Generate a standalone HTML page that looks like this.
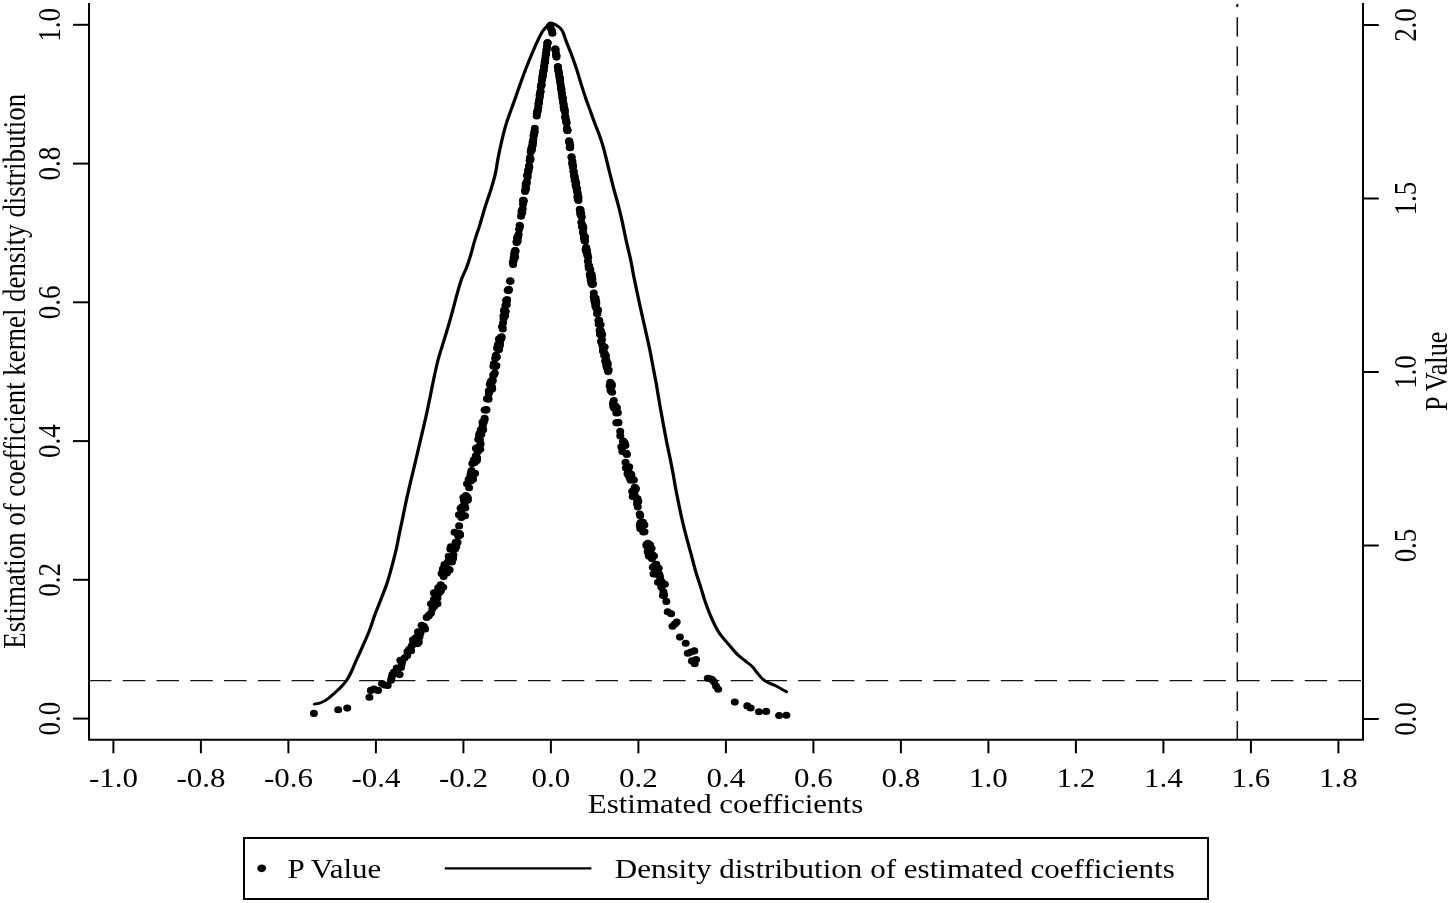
<!DOCTYPE html>
<html lang="en"><head><meta charset="utf-8"><title>Placebo test</title>
<style>
html,body{margin:0;padding:0;background:#fff;}
body{width:1450px;height:903px;overflow:hidden;}
svg{display:block;}
text{font-family:"Liberation Serif","Times New Roman",serif;font-size:27px;fill:#000;}
</style></head><body>
<svg width="1450" height="903" viewBox="0 0 1450 903">
<rect width="1450" height="903" fill="#fff"/>
<g stroke="#161616" fill="none">
<line x1="89.0" y1="680.6" x2="1363.0" y2="680.6" stroke-width="1.35" stroke-dasharray="22.5 11.27"/>
<line x1="1237.3" y1="17.2" x2="1237.3" y2="739.7" stroke-width="1.55" stroke-dasharray="19.4 9.92"/>
</g>
<ellipse cx="1237.3" cy="5.5" rx="1.3" ry="1.8" fill="#111"/>
<g stroke="#000" stroke-width="2" fill="none" stroke-linecap="butt">
<path d="M89.0 3.0V739.7H1363.0V3.0"/>
<line x1="113.4" y1="739.7" x2="113.4" y2="753.3"/>
<line x1="200.9" y1="739.7" x2="200.9" y2="753.3"/>
<line x1="288.4" y1="739.7" x2="288.4" y2="753.3"/>
<line x1="375.9" y1="739.7" x2="375.9" y2="753.3"/>
<line x1="463.4" y1="739.7" x2="463.4" y2="753.3"/>
<line x1="550.9" y1="739.7" x2="550.9" y2="753.3"/>
<line x1="638.4" y1="739.7" x2="638.4" y2="753.3"/>
<line x1="725.9" y1="739.7" x2="725.9" y2="753.3"/>
<line x1="813.4" y1="739.7" x2="813.4" y2="753.3"/>
<line x1="900.9" y1="739.7" x2="900.9" y2="753.3"/>
<line x1="988.4" y1="739.7" x2="988.4" y2="753.3"/>
<line x1="1075.9" y1="739.7" x2="1075.9" y2="753.3"/>
<line x1="1163.4" y1="739.7" x2="1163.4" y2="753.3"/>
<line x1="1250.9" y1="739.7" x2="1250.9" y2="753.3"/>
<line x1="1338.4" y1="739.7" x2="1338.4" y2="753.3"/>
<line x1="73" y1="718.6" x2="89.0" y2="718.6"/>
<line x1="73" y1="579.8" x2="89.0" y2="579.8"/>
<line x1="73" y1="441.1" x2="89.0" y2="441.1"/>
<line x1="73" y1="302.3" x2="89.0" y2="302.3"/>
<line x1="73" y1="163.6" x2="89.0" y2="163.6"/>
<line x1="73" y1="24.8" x2="89.0" y2="24.8"/>
<line x1="1363.0" y1="719.0" x2="1378.8" y2="719.0"/>
<line x1="1363.0" y1="545.5" x2="1378.8" y2="545.5"/>
<line x1="1363.0" y1="372.0" x2="1378.8" y2="372.0"/>
<line x1="1363.0" y1="198.5" x2="1378.8" y2="198.5"/>
<line x1="1363.0" y1="25.0" x2="1378.8" y2="25.0"/>
</g>
<path transform="scale(1.147 1)" d="M274.19 704.10 C275.11 703.87 277.77 703.55 279.69 702.70 C281.60 701.85 283.70 700.62 285.70 699.00 C287.71 697.38 289.71 695.08 291.72 693.00 C293.72 690.92 295.92 688.73 297.73 686.50 C299.55 684.27 301.10 682.25 302.62 679.60 C304.13 676.95 305.59 673.48 306.80 670.60 C308.01 667.72 308.34 666.22 309.85 662.30 C311.36 658.38 313.86 652.30 315.87 647.10 C317.87 641.90 320.08 636.42 321.88 631.10 C323.68 625.78 325.02 620.35 326.68 615.20 C328.33 610.05 330.02 605.57 331.82 600.20 C333.62 594.83 335.85 588.65 337.49 583.00 C339.13 577.35 340.37 571.85 341.67 566.30 C342.98 560.75 344.23 555.23 345.34 549.70 C346.44 544.17 347.30 538.63 348.30 533.10 C349.30 527.57 350.35 522.03 351.35 516.50 C352.35 510.97 353.31 505.20 354.32 499.90 C355.32 494.60 356.52 488.85 357.37 484.70 C358.21 480.55 358.44 479.45 359.37 475.00 C360.30 470.55 361.70 464.07 362.95 458.00 C364.20 451.93 365.50 445.30 366.87 438.60 C368.24 431.90 369.83 424.50 371.14 417.80 C372.45 411.10 373.51 405.08 374.72 398.40 C375.92 391.72 377.17 384.15 378.38 377.70 C379.58 371.25 380.94 364.32 381.95 359.70 C382.97 355.08 383.17 354.92 384.48 350.00 C385.79 345.08 388.11 336.73 389.80 330.20 C391.49 323.67 393.10 317.03 394.59 310.80 C396.09 304.57 397.47 298.10 398.78 292.80 C400.09 287.50 401.13 283.15 402.44 279.00 C403.75 274.85 405.32 271.83 406.63 267.90 C407.93 263.97 409.18 259.55 410.29 255.40 C411.39 251.25 412.25 246.92 413.25 243.00 C414.25 239.08 415.46 234.90 416.30 231.90 C417.15 228.90 417.12 229.45 418.31 225.00 C419.50 220.55 421.80 211.27 423.45 205.20 C425.11 199.13 426.84 193.90 428.25 188.60 C429.66 183.30 430.91 178.48 431.91 173.40 C432.91 168.32 433.36 163.42 434.26 158.10 C435.16 152.78 436.18 147.05 437.31 141.50 C438.45 135.95 439.74 129.90 441.06 124.80 C442.39 119.70 443.90 115.28 445.25 110.90 C446.60 106.52 447.73 103.15 449.17 98.50 C450.61 93.85 452.19 88.35 453.88 83.00 C455.57 77.65 457.48 71.70 459.29 66.40 C461.09 61.10 462.98 55.80 464.69 51.20 C466.41 46.60 468.16 42.15 469.57 38.80 C470.98 35.45 471.94 33.18 473.15 31.10 C474.35 29.02 475.70 27.65 476.81 26.30 C477.91 24.95 478.57 23.32 479.77 23.00 C480.98 22.68 482.64 23.58 484.05 24.40 C485.45 25.22 487.13 26.67 488.23 27.90 C489.33 29.13 489.76 29.53 490.67 31.80 C491.59 34.07 492.41 37.57 493.72 41.50 C495.03 45.43 497.02 50.78 498.52 55.40 C500.01 60.02 501.39 64.60 502.70 69.20 C504.01 73.80 505.03 78.12 506.36 83.00 C507.70 87.88 509.34 93.85 510.72 98.50 C512.10 103.15 513.34 106.75 514.65 110.90 C515.95 115.05 517.28 119.45 518.57 123.40 C519.86 127.35 521.17 130.65 522.41 134.60 C523.64 138.55 524.88 142.72 525.98 147.10 C527.09 151.48 528.03 156.30 529.03 160.90 C530.03 165.50 530.99 170.08 532.00 174.70 C533.00 179.32 533.93 183.75 535.05 188.60 C536.17 193.45 537.61 198.97 538.71 203.80 C539.81 208.63 540.95 214.10 541.67 217.60 C542.40 221.10 542.33 220.80 543.07 224.80 C543.81 228.80 545.00 235.80 546.12 241.60 C547.24 247.40 548.68 253.60 549.78 259.60 C550.89 265.60 551.74 271.83 552.75 277.60 C553.75 283.37 554.68 288.20 555.80 294.20 C556.92 300.20 558.25 307.37 559.46 313.60 C560.67 319.83 561.86 325.57 563.03 331.60 C564.21 337.63 565.48 343.97 566.52 349.80 C567.57 355.63 568.35 360.80 569.31 366.60 C570.27 372.40 571.27 378.13 572.28 384.60 C573.28 391.07 574.31 398.72 575.33 405.40 C576.34 412.08 577.38 418.48 578.38 424.70 C579.38 430.92 580.34 436.93 581.34 442.70 C582.35 448.47 583.45 453.95 584.39 459.30 C585.34 464.65 586.22 469.88 587.01 474.80 C587.79 479.72 588.35 484.15 589.10 488.80 C589.86 493.45 590.63 497.62 591.54 502.70 C592.46 507.78 593.49 513.77 594.59 519.30 C595.70 524.83 596.86 530.13 598.17 535.90 C599.48 541.67 601.03 547.90 602.44 553.90 C603.85 559.90 605.22 566.37 606.63 571.90 C608.04 577.43 609.62 582.45 610.90 587.10 C612.18 591.75 613.06 595.57 614.30 599.80 C615.53 604.03 616.84 608.32 618.31 612.50 C619.78 616.68 621.49 621.22 623.10 624.90 C624.72 628.58 625.97 631.37 627.99 634.60 C630.01 637.83 632.81 641.07 635.22 644.30 C637.63 647.53 640.05 651.23 642.46 654.00 C644.87 656.77 647.49 658.83 649.69 660.90 C651.90 662.97 653.91 664.32 655.71 666.40 C657.51 668.48 658.89 671.20 660.51 673.40 C662.12 675.60 663.78 678.03 665.39 679.60 C667.00 681.17 668.38 681.77 670.18 682.80 C671.98 683.83 674.38 684.78 676.20 685.80 C678.02 686.82 679.51 687.90 681.08 688.90 C682.65 689.90 684.86 691.32 685.61 691.80" fill="none" stroke="#000" stroke-width="2.85" stroke-linejoin="round" stroke-linecap="round"/>
<g fill="#000">
<ellipse cx="440.8" cy="590.9" rx="4.0" ry="3.55"/>
<ellipse cx="441.6" cy="573.4" rx="4.0" ry="3.55"/>
<ellipse cx="442.8" cy="569.4" rx="4.0" ry="3.55"/>
<ellipse cx="443.6" cy="567.7" rx="4.0" ry="3.55"/>
<ellipse cx="444.5" cy="564.5" rx="4.0" ry="3.55"/>
<ellipse cx="446.1" cy="569.6" rx="4.0" ry="3.55"/>
<ellipse cx="446.9" cy="573.0" rx="4.0" ry="3.55"/>
<ellipse cx="447.1" cy="568.2" rx="4.0" ry="3.55"/>
<ellipse cx="447.8" cy="562.1" rx="4.0" ry="3.55"/>
<ellipse cx="448.7" cy="556.3" rx="4.0" ry="3.55"/>
<ellipse cx="449.0" cy="557.2" rx="4.0" ry="3.55"/>
<ellipse cx="449.6" cy="569.9" rx="4.0" ry="3.55"/>
<ellipse cx="450.3" cy="549.0" rx="4.0" ry="3.55"/>
<ellipse cx="450.8" cy="546.8" rx="4.0" ry="3.55"/>
<ellipse cx="451.1" cy="556.2" rx="4.0" ry="3.55"/>
<ellipse cx="451.5" cy="548.8" rx="4.0" ry="3.55"/>
<ellipse cx="452.0" cy="562.0" rx="4.0" ry="3.55"/>
<ellipse cx="452.6" cy="557.6" rx="4.0" ry="3.55"/>
<ellipse cx="453.1" cy="558.6" rx="4.0" ry="3.55"/>
<ellipse cx="453.5" cy="554.8" rx="4.0" ry="3.55"/>
<ellipse cx="454.0" cy="547.3" rx="4.0" ry="3.55"/>
<ellipse cx="454.5" cy="532.3" rx="4.0" ry="3.55"/>
<ellipse cx="455.3" cy="548.8" rx="4.0" ry="3.55"/>
<ellipse cx="455.6" cy="542.3" rx="4.0" ry="3.55"/>
<ellipse cx="456.2" cy="546.5" rx="4.0" ry="3.55"/>
<ellipse cx="457.2" cy="533.2" rx="4.0" ry="3.55"/>
<ellipse cx="457.5" cy="542.4" rx="4.0" ry="3.55"/>
<ellipse cx="458.1" cy="535.8" rx="4.0" ry="3.55"/>
<ellipse cx="458.8" cy="536.1" rx="4.0" ry="3.55"/>
<ellipse cx="458.9" cy="514.8" rx="4.0" ry="3.55"/>
<ellipse cx="459.6" cy="533.5" rx="4.0" ry="3.55"/>
<ellipse cx="460.1" cy="534.9" rx="4.0" ry="3.55"/>
<ellipse cx="460.6" cy="508.3" rx="4.0" ry="3.55"/>
<ellipse cx="461.2" cy="513.3" rx="4.0" ry="3.55"/>
<ellipse cx="461.8" cy="509.0" rx="4.0" ry="3.55"/>
<ellipse cx="462.4" cy="506.6" rx="4.0" ry="3.55"/>
<ellipse cx="463.4" cy="497.6" rx="4.0" ry="3.55"/>
<ellipse cx="463.9" cy="500.3" rx="4.0" ry="3.55"/>
<ellipse cx="464.3" cy="500.3" rx="4.0" ry="3.55"/>
<ellipse cx="464.5" cy="505.1" rx="4.0" ry="3.55"/>
<ellipse cx="465.0" cy="515.7" rx="4.0" ry="3.55"/>
<ellipse cx="465.4" cy="507.9" rx="4.0" ry="3.55"/>
<ellipse cx="465.9" cy="495.5" rx="4.0" ry="3.55"/>
<ellipse cx="466.6" cy="498.7" rx="4.0" ry="3.55"/>
<ellipse cx="467.0" cy="483.8" rx="4.0" ry="3.55"/>
<ellipse cx="467.5" cy="497.3" rx="4.0" ry="3.55"/>
<ellipse cx="467.6" cy="500.2" rx="4.0" ry="3.55"/>
<ellipse cx="468.0" cy="499.0" rx="4.0" ry="3.55"/>
<ellipse cx="468.6" cy="479.6" rx="4.0" ry="3.55"/>
<ellipse cx="469.1" cy="487.7" rx="4.0" ry="3.55"/>
<ellipse cx="469.5" cy="478.5" rx="4.0" ry="3.55"/>
<ellipse cx="469.7" cy="481.0" rx="4.0" ry="3.55"/>
<ellipse cx="470.4" cy="475.1" rx="4.0" ry="3.55"/>
<ellipse cx="470.8" cy="480.9" rx="4.0" ry="3.55"/>
<ellipse cx="471.0" cy="472.7" rx="4.0" ry="3.55"/>
<ellipse cx="471.5" cy="470.5" rx="4.0" ry="3.55"/>
<ellipse cx="472.1" cy="477.2" rx="4.0" ry="3.55"/>
<ellipse cx="472.3" cy="463.6" rx="4.0" ry="3.55"/>
<ellipse cx="472.8" cy="479.5" rx="4.0" ry="3.55"/>
<ellipse cx="473.0" cy="479.1" rx="4.0" ry="3.55"/>
<ellipse cx="473.7" cy="460.9" rx="4.0" ry="3.55"/>
<ellipse cx="473.9" cy="459.9" rx="4.0" ry="3.55"/>
<ellipse cx="474.6" cy="460.7" rx="4.0" ry="3.55"/>
<ellipse cx="474.7" cy="462.4" rx="4.0" ry="3.55"/>
<ellipse cx="475.1" cy="473.4" rx="4.0" ry="3.55"/>
<ellipse cx="475.8" cy="455.7" rx="4.0" ry="3.55"/>
<ellipse cx="476.0" cy="448.4" rx="4.0" ry="3.55"/>
<ellipse cx="476.4" cy="448.2" rx="4.0" ry="3.55"/>
<ellipse cx="476.9" cy="460.6" rx="4.0" ry="3.55"/>
<ellipse cx="477.1" cy="457.8" rx="4.0" ry="3.55"/>
<ellipse cx="477.5" cy="449.6" rx="4.0" ry="3.55"/>
<ellipse cx="477.9" cy="451.5" rx="4.0" ry="3.55"/>
<ellipse cx="478.2" cy="439.3" rx="4.0" ry="3.55"/>
<ellipse cx="478.7" cy="446.9" rx="4.0" ry="3.55"/>
<ellipse cx="479.1" cy="435.3" rx="4.0" ry="3.55"/>
<ellipse cx="479.5" cy="433.6" rx="4.0" ry="3.55"/>
<ellipse cx="479.9" cy="439.9" rx="4.0" ry="3.55"/>
<ellipse cx="480.3" cy="449.2" rx="4.0" ry="3.55"/>
<ellipse cx="480.6" cy="443.9" rx="4.0" ry="3.55"/>
<ellipse cx="480.8" cy="429.8" rx="4.0" ry="3.55"/>
<ellipse cx="481.3" cy="434.6" rx="4.0" ry="3.55"/>
<ellipse cx="481.8" cy="430.3" rx="4.0" ry="3.55"/>
<ellipse cx="482.1" cy="429.9" rx="4.0" ry="3.55"/>
<ellipse cx="482.5" cy="422.4" rx="4.0" ry="3.55"/>
<ellipse cx="482.7" cy="425.9" rx="4.0" ry="3.55"/>
<ellipse cx="483.2" cy="429.7" rx="4.0" ry="3.55"/>
<ellipse cx="483.7" cy="422.4" rx="4.0" ry="3.55"/>
<ellipse cx="484.5" cy="420.0" rx="4.0" ry="3.55"/>
<ellipse cx="486.9" cy="398.8" rx="4.0" ry="3.55"/>
<ellipse cx="488.2" cy="397.7" rx="4.0" ry="3.55"/>
<ellipse cx="488.8" cy="390.7" rx="4.0" ry="3.55"/>
<ellipse cx="488.9" cy="393.2" rx="4.0" ry="3.55"/>
<ellipse cx="489.8" cy="384.2" rx="4.0" ry="3.55"/>
<ellipse cx="490.0" cy="383.7" rx="4.0" ry="3.55"/>
<ellipse cx="490.4" cy="389.9" rx="4.0" ry="3.55"/>
<ellipse cx="490.9" cy="381.2" rx="4.0" ry="3.55"/>
<ellipse cx="491.0" cy="387.8" rx="4.0" ry="3.55"/>
<ellipse cx="491.5" cy="387.1" rx="4.0" ry="3.55"/>
<ellipse cx="491.7" cy="386.2" rx="4.0" ry="3.55"/>
<ellipse cx="492.2" cy="388.9" rx="4.0" ry="3.55"/>
<ellipse cx="492.5" cy="379.9" rx="4.0" ry="3.55"/>
<ellipse cx="492.7" cy="380.9" rx="4.0" ry="3.55"/>
<ellipse cx="493.2" cy="375.0" rx="4.0" ry="3.55"/>
<ellipse cx="493.4" cy="366.3" rx="4.0" ry="3.55"/>
<ellipse cx="493.9" cy="363.7" rx="4.0" ry="3.55"/>
<ellipse cx="494.1" cy="374.7" rx="4.0" ry="3.55"/>
<ellipse cx="494.4" cy="364.5" rx="4.0" ry="3.55"/>
<ellipse cx="494.8" cy="373.1" rx="4.0" ry="3.55"/>
<ellipse cx="495.2" cy="358.4" rx="4.0" ry="3.55"/>
<ellipse cx="495.6" cy="366.5" rx="4.0" ry="3.55"/>
<ellipse cx="495.8" cy="355.3" rx="4.0" ry="3.55"/>
<ellipse cx="496.2" cy="356.3" rx="4.0" ry="3.55"/>
<ellipse cx="496.4" cy="365.5" rx="4.0" ry="3.55"/>
<ellipse cx="496.9" cy="356.9" rx="4.0" ry="3.55"/>
<ellipse cx="497.1" cy="348.2" rx="4.0" ry="3.55"/>
<ellipse cx="497.6" cy="347.7" rx="4.0" ry="3.55"/>
<ellipse cx="497.7" cy="346.0" rx="4.0" ry="3.55"/>
<ellipse cx="498.1" cy="344.2" rx="4.0" ry="3.55"/>
<ellipse cx="498.5" cy="349.6" rx="4.0" ry="3.55"/>
<ellipse cx="498.9" cy="339.0" rx="4.0" ry="3.55"/>
<ellipse cx="499.1" cy="349.5" rx="4.0" ry="3.55"/>
<ellipse cx="499.5" cy="345.7" rx="4.0" ry="3.55"/>
<ellipse cx="499.7" cy="345.7" rx="4.0" ry="3.55"/>
<ellipse cx="500.0" cy="343.4" rx="4.0" ry="3.55"/>
<ellipse cx="500.4" cy="339.6" rx="4.0" ry="3.55"/>
<ellipse cx="500.9" cy="337.4" rx="4.0" ry="3.55"/>
<ellipse cx="501.1" cy="337.6" rx="4.0" ry="3.55"/>
<ellipse cx="501.4" cy="338.4" rx="4.0" ry="3.55"/>
<ellipse cx="501.7" cy="336.8" rx="4.0" ry="3.55"/>
<ellipse cx="502.2" cy="326.6" rx="4.0" ry="3.55"/>
<ellipse cx="502.3" cy="326.7" rx="4.0" ry="3.55"/>
<ellipse cx="502.8" cy="329.0" rx="4.0" ry="3.55"/>
<ellipse cx="503.1" cy="322.8" rx="4.0" ry="3.55"/>
<ellipse cx="503.4" cy="316.0" rx="4.0" ry="3.55"/>
<ellipse cx="503.6" cy="318.8" rx="4.0" ry="3.55"/>
<ellipse cx="504.0" cy="310.2" rx="4.0" ry="3.55"/>
<ellipse cx="504.3" cy="311.0" rx="4.0" ry="3.55"/>
<ellipse cx="504.7" cy="311.3" rx="4.0" ry="3.55"/>
<ellipse cx="504.9" cy="313.9" rx="4.0" ry="3.55"/>
<ellipse cx="505.1" cy="315.7" rx="4.0" ry="3.55"/>
<ellipse cx="505.4" cy="305.6" rx="4.0" ry="3.55"/>
<ellipse cx="505.8" cy="311.3" rx="4.0" ry="3.55"/>
<ellipse cx="506.1" cy="300.8" rx="4.0" ry="3.55"/>
<ellipse cx="506.6" cy="300.0" rx="4.0" ry="3.55"/>
<ellipse cx="506.8" cy="304.8" rx="4.0" ry="3.55"/>
<ellipse cx="507.1" cy="300.1" rx="4.0" ry="3.55"/>
<ellipse cx="507.7" cy="290.2" rx="4.0" ry="3.55"/>
<ellipse cx="512.8" cy="262.3" rx="4.0" ry="3.55"/>
<ellipse cx="513.3" cy="261.5" rx="4.0" ry="3.55"/>
<ellipse cx="513.6" cy="257.9" rx="4.0" ry="3.55"/>
<ellipse cx="513.7" cy="260.4" rx="4.0" ry="3.55"/>
<ellipse cx="514.1" cy="254.5" rx="4.0" ry="3.55"/>
<ellipse cx="514.5" cy="252.4" rx="4.0" ry="3.55"/>
<ellipse cx="515.1" cy="250.5" rx="4.0" ry="3.55"/>
<ellipse cx="515.2" cy="256.9" rx="4.0" ry="3.55"/>
<ellipse cx="515.5" cy="251.5" rx="4.0" ry="3.55"/>
<ellipse cx="516.5" cy="241.9" rx="4.0" ry="3.55"/>
<ellipse cx="517.2" cy="237.4" rx="4.0" ry="3.55"/>
<ellipse cx="517.4" cy="238.3" rx="4.0" ry="3.55"/>
<ellipse cx="517.7" cy="241.3" rx="4.0" ry="3.55"/>
<ellipse cx="518.0" cy="237.3" rx="4.0" ry="3.55"/>
<ellipse cx="518.1" cy="236.5" rx="4.0" ry="3.55"/>
<ellipse cx="518.6" cy="234.2" rx="4.0" ry="3.55"/>
<ellipse cx="519.1" cy="229.2" rx="4.0" ry="3.55"/>
<ellipse cx="520.0" cy="226.6" rx="4.0" ry="3.55"/>
<ellipse cx="521.5" cy="211.6" rx="4.0" ry="3.55"/>
<ellipse cx="521.8" cy="213.6" rx="4.0" ry="3.55"/>
<ellipse cx="522.0" cy="210.4" rx="4.0" ry="3.55"/>
<ellipse cx="522.3" cy="212.0" rx="4.0" ry="3.55"/>
<ellipse cx="522.7" cy="208.7" rx="4.0" ry="3.55"/>
<ellipse cx="523.0" cy="200.2" rx="4.0" ry="3.55"/>
<ellipse cx="523.0" cy="204.1" rx="4.0" ry="3.55"/>
<ellipse cx="523.7" cy="201.5" rx="4.0" ry="3.55"/>
<ellipse cx="525.3" cy="189.9" rx="4.0" ry="3.55"/>
<ellipse cx="525.6" cy="186.4" rx="4.0" ry="3.55"/>
<ellipse cx="525.7" cy="184.1" rx="4.0" ry="3.55"/>
<ellipse cx="526.0" cy="189.1" rx="4.0" ry="3.55"/>
<ellipse cx="526.2" cy="184.2" rx="4.0" ry="3.55"/>
<ellipse cx="526.6" cy="183.2" rx="4.0" ry="3.55"/>
<ellipse cx="526.8" cy="181.6" rx="4.0" ry="3.55"/>
<ellipse cx="527.1" cy="175.7" rx="4.0" ry="3.55"/>
<ellipse cx="527.3" cy="175.1" rx="4.0" ry="3.55"/>
<ellipse cx="527.8" cy="176.8" rx="4.0" ry="3.55"/>
<ellipse cx="528.1" cy="170.3" rx="4.0" ry="3.55"/>
<ellipse cx="528.4" cy="171.7" rx="4.0" ry="3.55"/>
<ellipse cx="528.5" cy="170.0" rx="4.0" ry="3.55"/>
<ellipse cx="529.0" cy="165.8" rx="4.0" ry="3.55"/>
<ellipse cx="529.1" cy="166.2" rx="4.0" ry="3.55"/>
<ellipse cx="529.3" cy="167.3" rx="4.0" ry="3.55"/>
<ellipse cx="529.6" cy="160.2" rx="4.0" ry="3.55"/>
<ellipse cx="529.9" cy="157.5" rx="4.0" ry="3.55"/>
<ellipse cx="530.2" cy="160.3" rx="4.0" ry="3.55"/>
<ellipse cx="530.5" cy="158.6" rx="4.0" ry="3.55"/>
<ellipse cx="530.7" cy="151.9" rx="4.0" ry="3.55"/>
<ellipse cx="531.2" cy="150.3" rx="4.0" ry="3.55"/>
<ellipse cx="531.4" cy="148.3" rx="4.0" ry="3.55"/>
<ellipse cx="531.7" cy="148.3" rx="4.0" ry="3.55"/>
<ellipse cx="531.9" cy="150.1" rx="4.0" ry="3.55"/>
<ellipse cx="532.2" cy="145.7" rx="4.0" ry="3.55"/>
<ellipse cx="532.5" cy="142.7" rx="4.0" ry="3.55"/>
<ellipse cx="532.7" cy="145.3" rx="4.0" ry="3.55"/>
<ellipse cx="533.1" cy="141.9" rx="4.0" ry="3.55"/>
<ellipse cx="533.3" cy="139.6" rx="4.0" ry="3.55"/>
<ellipse cx="533.5" cy="135.8" rx="4.0" ry="3.55"/>
<ellipse cx="533.9" cy="135.6" rx="4.0" ry="3.55"/>
<ellipse cx="534.1" cy="134.1" rx="4.0" ry="3.55"/>
<ellipse cx="534.4" cy="131.9" rx="4.0" ry="3.55"/>
<ellipse cx="534.6" cy="132.0" rx="4.0" ry="3.55"/>
<ellipse cx="536.8" cy="113.4" rx="4.0" ry="3.55"/>
<ellipse cx="537.1" cy="113.5" rx="4.0" ry="3.55"/>
<ellipse cx="537.3" cy="111.8" rx="4.0" ry="3.55"/>
<ellipse cx="537.6" cy="110.9" rx="4.0" ry="3.55"/>
<ellipse cx="537.8" cy="109.8" rx="4.0" ry="3.55"/>
<ellipse cx="538.3" cy="107.2" rx="4.0" ry="3.55"/>
<ellipse cx="538.4" cy="104.0" rx="4.0" ry="3.55"/>
<ellipse cx="538.8" cy="103.3" rx="4.0" ry="3.55"/>
<ellipse cx="538.9" cy="102.4" rx="4.0" ry="3.55"/>
<ellipse cx="539.2" cy="99.6" rx="4.0" ry="3.55"/>
<ellipse cx="539.6" cy="95.4" rx="4.0" ry="3.55"/>
<ellipse cx="539.9" cy="96.8" rx="4.0" ry="3.55"/>
<ellipse cx="539.9" cy="93.8" rx="4.0" ry="3.55"/>
<ellipse cx="540.4" cy="91.5" rx="4.0" ry="3.55"/>
<ellipse cx="540.6" cy="91.8" rx="4.0" ry="3.55"/>
<ellipse cx="540.8" cy="87.2" rx="4.0" ry="3.55"/>
<ellipse cx="541.2" cy="85.0" rx="4.0" ry="3.55"/>
<ellipse cx="541.5" cy="84.9" rx="4.0" ry="3.55"/>
<ellipse cx="541.6" cy="84.8" rx="4.0" ry="3.55"/>
<ellipse cx="541.9" cy="80.7" rx="4.0" ry="3.55"/>
<ellipse cx="542.3" cy="78.1" rx="4.0" ry="3.55"/>
<ellipse cx="542.5" cy="76.7" rx="4.0" ry="3.55"/>
<ellipse cx="542.7" cy="75.8" rx="4.0" ry="3.55"/>
<ellipse cx="542.9" cy="74.1" rx="4.0" ry="3.55"/>
<ellipse cx="543.2" cy="71.7" rx="4.0" ry="3.55"/>
<ellipse cx="543.5" cy="70.7" rx="4.0" ry="3.55"/>
<ellipse cx="543.7" cy="69.9" rx="4.0" ry="3.55"/>
<ellipse cx="544.1" cy="66.3" rx="4.0" ry="3.55"/>
<ellipse cx="544.2" cy="66.7" rx="4.0" ry="3.55"/>
<ellipse cx="544.6" cy="63.1" rx="4.0" ry="3.55"/>
<ellipse cx="544.8" cy="62.3" rx="4.0" ry="3.55"/>
<ellipse cx="545.1" cy="60.5" rx="4.0" ry="3.55"/>
<ellipse cx="545.3" cy="58.4" rx="4.0" ry="3.55"/>
<ellipse cx="545.7" cy="55.2" rx="4.0" ry="3.55"/>
<ellipse cx="545.9" cy="53.8" rx="4.0" ry="3.55"/>
<ellipse cx="546.1" cy="53.4" rx="4.0" ry="3.55"/>
<ellipse cx="546.5" cy="49.8" rx="4.0" ry="3.55"/>
<ellipse cx="546.6" cy="49.9" rx="4.0" ry="3.55"/>
<ellipse cx="546.9" cy="47.0" rx="4.0" ry="3.55"/>
<ellipse cx="547.1" cy="45.8" rx="4.0" ry="3.55"/>
<ellipse cx="547.5" cy="43.0" rx="4.0" ry="3.55"/>
<ellipse cx="547.6" cy="42.7" rx="4.0" ry="3.55"/>
<ellipse cx="555.3" cy="49.1" rx="4.0" ry="3.55"/>
<ellipse cx="555.6" cy="50.6" rx="4.0" ry="3.55"/>
<ellipse cx="556.0" cy="53.9" rx="4.0" ry="3.55"/>
<ellipse cx="556.3" cy="55.6" rx="4.0" ry="3.55"/>
<ellipse cx="556.4" cy="55.4" rx="4.0" ry="3.55"/>
<ellipse cx="557.8" cy="66.8" rx="4.0" ry="3.55"/>
<ellipse cx="558.3" cy="70.2" rx="4.0" ry="3.55"/>
<ellipse cx="558.4" cy="70.8" rx="4.0" ry="3.55"/>
<ellipse cx="558.9" cy="73.6" rx="4.0" ry="3.55"/>
<ellipse cx="559.1" cy="73.5" rx="4.0" ry="3.55"/>
<ellipse cx="559.3" cy="76.2" rx="4.0" ry="3.55"/>
<ellipse cx="559.7" cy="78.1" rx="4.0" ry="3.55"/>
<ellipse cx="559.8" cy="78.5" rx="4.0" ry="3.55"/>
<ellipse cx="560.0" cy="81.6" rx="4.0" ry="3.55"/>
<ellipse cx="560.2" cy="81.5" rx="4.0" ry="3.55"/>
<ellipse cx="560.7" cy="85.1" rx="4.0" ry="3.55"/>
<ellipse cx="561.0" cy="88.9" rx="4.0" ry="3.55"/>
<ellipse cx="561.1" cy="88.1" rx="4.0" ry="3.55"/>
<ellipse cx="561.5" cy="89.4" rx="4.0" ry="3.55"/>
<ellipse cx="561.7" cy="92.7" rx="4.0" ry="3.55"/>
<ellipse cx="561.9" cy="93.7" rx="4.0" ry="3.55"/>
<ellipse cx="562.3" cy="97.5" rx="4.0" ry="3.55"/>
<ellipse cx="562.6" cy="97.0" rx="4.0" ry="3.55"/>
<ellipse cx="562.8" cy="98.7" rx="4.0" ry="3.55"/>
<ellipse cx="563.1" cy="101.8" rx="4.0" ry="3.55"/>
<ellipse cx="563.3" cy="103.0" rx="4.0" ry="3.55"/>
<ellipse cx="563.6" cy="106.8" rx="4.0" ry="3.55"/>
<ellipse cx="563.8" cy="104.8" rx="4.0" ry="3.55"/>
<ellipse cx="564.0" cy="109.6" rx="4.0" ry="3.55"/>
<ellipse cx="564.3" cy="109.0" rx="4.0" ry="3.55"/>
<ellipse cx="564.6" cy="109.4" rx="4.0" ry="3.55"/>
<ellipse cx="565.0" cy="111.9" rx="4.0" ry="3.55"/>
<ellipse cx="565.1" cy="116.9" rx="4.0" ry="3.55"/>
<ellipse cx="565.4" cy="116.5" rx="4.0" ry="3.55"/>
<ellipse cx="565.8" cy="119.5" rx="4.0" ry="3.55"/>
<ellipse cx="565.9" cy="120.7" rx="4.0" ry="3.55"/>
<ellipse cx="566.3" cy="121.8" rx="4.0" ry="3.55"/>
<ellipse cx="566.6" cy="122.9" rx="4.0" ry="3.55"/>
<ellipse cx="566.9" cy="128.3" rx="4.0" ry="3.55"/>
<ellipse cx="567.2" cy="129.5" rx="4.0" ry="3.55"/>
<ellipse cx="567.4" cy="130.4" rx="4.0" ry="3.55"/>
<ellipse cx="569.0" cy="142.0" rx="4.0" ry="3.55"/>
<ellipse cx="569.4" cy="141.7" rx="4.0" ry="3.55"/>
<ellipse cx="569.7" cy="147.2" rx="4.0" ry="3.55"/>
<ellipse cx="569.8" cy="143.8" rx="4.0" ry="3.55"/>
<ellipse cx="570.2" cy="145.5" rx="4.0" ry="3.55"/>
<ellipse cx="571.6" cy="157.4" rx="4.0" ry="3.55"/>
<ellipse cx="572.2" cy="163.6" rx="4.0" ry="3.55"/>
<ellipse cx="572.4" cy="161.2" rx="4.0" ry="3.55"/>
<ellipse cx="572.5" cy="164.1" rx="4.0" ry="3.55"/>
<ellipse cx="572.8" cy="167.0" rx="4.0" ry="3.55"/>
<ellipse cx="573.1" cy="166.1" rx="4.0" ry="3.55"/>
<ellipse cx="573.5" cy="171.5" rx="4.0" ry="3.55"/>
<ellipse cx="573.6" cy="171.3" rx="4.0" ry="3.55"/>
<ellipse cx="574.1" cy="175.3" rx="4.0" ry="3.55"/>
<ellipse cx="574.2" cy="176.4" rx="4.0" ry="3.55"/>
<ellipse cx="574.6" cy="176.3" rx="4.0" ry="3.55"/>
<ellipse cx="574.7" cy="180.4" rx="4.0" ry="3.55"/>
<ellipse cx="575.1" cy="179.2" rx="4.0" ry="3.55"/>
<ellipse cx="575.5" cy="185.1" rx="4.0" ry="3.55"/>
<ellipse cx="575.6" cy="181.2" rx="4.0" ry="3.55"/>
<ellipse cx="576.0" cy="186.7" rx="4.0" ry="3.55"/>
<ellipse cx="576.2" cy="183.0" rx="4.0" ry="3.55"/>
<ellipse cx="576.5" cy="187.8" rx="4.0" ry="3.55"/>
<ellipse cx="576.8" cy="190.9" rx="4.0" ry="3.55"/>
<ellipse cx="577.2" cy="188.7" rx="4.0" ry="3.55"/>
<ellipse cx="577.4" cy="196.4" rx="4.0" ry="3.55"/>
<ellipse cx="577.7" cy="198.8" rx="4.0" ry="3.55"/>
<ellipse cx="577.8" cy="193.4" rx="4.0" ry="3.55"/>
<ellipse cx="578.2" cy="196.5" rx="4.0" ry="3.55"/>
<ellipse cx="578.5" cy="197.7" rx="4.0" ry="3.55"/>
<ellipse cx="579.9" cy="209.9" rx="4.0" ry="3.55"/>
<ellipse cx="580.2" cy="213.4" rx="4.0" ry="3.55"/>
<ellipse cx="580.6" cy="209.8" rx="4.0" ry="3.55"/>
<ellipse cx="580.7" cy="214.9" rx="4.0" ry="3.55"/>
<ellipse cx="581.2" cy="213.4" rx="4.0" ry="3.55"/>
<ellipse cx="581.3" cy="222.2" rx="4.0" ry="3.55"/>
<ellipse cx="581.8" cy="217.0" rx="4.0" ry="3.55"/>
<ellipse cx="582.0" cy="227.1" rx="4.0" ry="3.55"/>
<ellipse cx="582.4" cy="226.2" rx="4.0" ry="3.55"/>
<ellipse cx="582.7" cy="225.6" rx="4.0" ry="3.55"/>
<ellipse cx="583.0" cy="232.0" rx="4.0" ry="3.55"/>
<ellipse cx="583.2" cy="233.1" rx="4.0" ry="3.55"/>
<ellipse cx="583.4" cy="227.9" rx="4.0" ry="3.55"/>
<ellipse cx="583.8" cy="237.2" rx="4.0" ry="3.55"/>
<ellipse cx="584.0" cy="235.7" rx="4.0" ry="3.55"/>
<ellipse cx="584.3" cy="238.2" rx="4.0" ry="3.55"/>
<ellipse cx="584.5" cy="240.8" rx="4.0" ry="3.55"/>
<ellipse cx="585.0" cy="236.7" rx="4.0" ry="3.55"/>
<ellipse cx="585.1" cy="240.9" rx="4.0" ry="3.55"/>
<ellipse cx="585.6" cy="249.5" rx="4.0" ry="3.55"/>
<ellipse cx="585.9" cy="250.6" rx="4.0" ry="3.55"/>
<ellipse cx="586.1" cy="247.2" rx="4.0" ry="3.55"/>
<ellipse cx="586.4" cy="251.7" rx="4.0" ry="3.55"/>
<ellipse cx="586.7" cy="250.1" rx="4.0" ry="3.55"/>
<ellipse cx="587.0" cy="251.1" rx="4.0" ry="3.55"/>
<ellipse cx="587.3" cy="255.3" rx="4.0" ry="3.55"/>
<ellipse cx="587.5" cy="254.4" rx="4.0" ry="3.55"/>
<ellipse cx="587.9" cy="261.3" rx="4.0" ry="3.55"/>
<ellipse cx="588.2" cy="257.3" rx="4.0" ry="3.55"/>
<ellipse cx="588.5" cy="265.5" rx="4.0" ry="3.55"/>
<ellipse cx="588.8" cy="268.2" rx="4.0" ry="3.55"/>
<ellipse cx="589.0" cy="265.6" rx="4.0" ry="3.55"/>
<ellipse cx="589.3" cy="267.2" rx="4.0" ry="3.55"/>
<ellipse cx="589.7" cy="274.6" rx="4.0" ry="3.55"/>
<ellipse cx="590.0" cy="276.1" rx="4.0" ry="3.55"/>
<ellipse cx="590.3" cy="269.6" rx="4.0" ry="3.55"/>
<ellipse cx="590.6" cy="279.8" rx="4.0" ry="3.55"/>
<ellipse cx="590.9" cy="277.6" rx="4.0" ry="3.55"/>
<ellipse cx="591.3" cy="283.1" rx="4.0" ry="3.55"/>
<ellipse cx="591.6" cy="274.3" rx="4.0" ry="3.55"/>
<ellipse cx="591.9" cy="278.0" rx="4.0" ry="3.55"/>
<ellipse cx="592.0" cy="276.9" rx="4.0" ry="3.55"/>
<ellipse cx="592.4" cy="279.4" rx="4.0" ry="3.55"/>
<ellipse cx="593.1" cy="283.7" rx="4.0" ry="3.55"/>
<ellipse cx="593.7" cy="297.0" rx="4.0" ry="3.55"/>
<ellipse cx="594.1" cy="297.5" rx="4.0" ry="3.55"/>
<ellipse cx="594.3" cy="300.9" rx="4.0" ry="3.55"/>
<ellipse cx="594.8" cy="301.9" rx="4.0" ry="3.55"/>
<ellipse cx="595.2" cy="303.4" rx="4.0" ry="3.55"/>
<ellipse cx="595.4" cy="306.3" rx="4.0" ry="3.55"/>
<ellipse cx="595.7" cy="298.4" rx="4.0" ry="3.55"/>
<ellipse cx="596.2" cy="301.5" rx="4.0" ry="3.55"/>
<ellipse cx="596.3" cy="303.8" rx="4.0" ry="3.55"/>
<ellipse cx="596.6" cy="308.9" rx="4.0" ry="3.55"/>
<ellipse cx="597.1" cy="313.8" rx="4.0" ry="3.55"/>
<ellipse cx="597.5" cy="313.3" rx="4.0" ry="3.55"/>
<ellipse cx="597.7" cy="310.2" rx="4.0" ry="3.55"/>
<ellipse cx="597.9" cy="309.8" rx="4.0" ry="3.55"/>
<ellipse cx="598.4" cy="320.4" rx="4.0" ry="3.55"/>
<ellipse cx="598.7" cy="324.3" rx="4.0" ry="3.55"/>
<ellipse cx="599.1" cy="322.0" rx="4.0" ry="3.55"/>
<ellipse cx="599.2" cy="320.2" rx="4.0" ry="3.55"/>
<ellipse cx="599.6" cy="330.4" rx="4.0" ry="3.55"/>
<ellipse cx="600.0" cy="334.5" rx="4.0" ry="3.55"/>
<ellipse cx="600.3" cy="333.4" rx="4.0" ry="3.55"/>
<ellipse cx="600.6" cy="324.7" rx="4.0" ry="3.55"/>
<ellipse cx="600.9" cy="330.8" rx="4.0" ry="3.55"/>
<ellipse cx="601.1" cy="341.7" rx="4.0" ry="3.55"/>
<ellipse cx="601.4" cy="340.9" rx="4.0" ry="3.55"/>
<ellipse cx="601.9" cy="339.4" rx="4.0" ry="3.55"/>
<ellipse cx="602.2" cy="334.4" rx="4.0" ry="3.55"/>
<ellipse cx="602.4" cy="345.3" rx="4.0" ry="3.55"/>
<ellipse cx="602.9" cy="351.1" rx="4.0" ry="3.55"/>
<ellipse cx="603.0" cy="346.7" rx="4.0" ry="3.55"/>
<ellipse cx="603.4" cy="348.7" rx="4.0" ry="3.55"/>
<ellipse cx="603.7" cy="347.2" rx="4.0" ry="3.55"/>
<ellipse cx="604.2" cy="355.4" rx="4.0" ry="3.55"/>
<ellipse cx="604.5" cy="353.0" rx="4.0" ry="3.55"/>
<ellipse cx="604.7" cy="347.0" rx="4.0" ry="3.55"/>
<ellipse cx="605.1" cy="361.1" rx="4.0" ry="3.55"/>
<ellipse cx="605.3" cy="355.0" rx="4.0" ry="3.55"/>
<ellipse cx="605.9" cy="355.7" rx="4.0" ry="3.55"/>
<ellipse cx="606.1" cy="364.9" rx="4.0" ry="3.55"/>
<ellipse cx="606.3" cy="360.0" rx="4.0" ry="3.55"/>
<ellipse cx="606.8" cy="367.4" rx="4.0" ry="3.55"/>
<ellipse cx="607.2" cy="367.8" rx="4.0" ry="3.55"/>
<ellipse cx="607.6" cy="365.2" rx="4.0" ry="3.55"/>
<ellipse cx="607.7" cy="363.2" rx="4.0" ry="3.55"/>
<ellipse cx="608.0" cy="370.7" rx="4.0" ry="3.55"/>
<ellipse cx="608.7" cy="370.1" rx="4.0" ry="3.55"/>
<ellipse cx="609.6" cy="385.9" rx="4.0" ry="3.55"/>
<ellipse cx="610.6" cy="390.6" rx="4.0" ry="3.55"/>
<ellipse cx="610.8" cy="389.3" rx="4.0" ry="3.55"/>
<ellipse cx="611.7" cy="386.2" rx="4.0" ry="3.55"/>
<ellipse cx="611.8" cy="384.4" rx="4.0" ry="3.55"/>
<ellipse cx="612.9" cy="403.6" rx="4.0" ry="3.55"/>
<ellipse cx="613.3" cy="406.7" rx="4.0" ry="3.55"/>
<ellipse cx="614.5" cy="408.5" rx="4.0" ry="3.55"/>
<ellipse cx="614.8" cy="406.7" rx="4.0" ry="3.55"/>
<ellipse cx="615.2" cy="407.2" rx="4.0" ry="3.55"/>
<ellipse cx="615.4" cy="405.8" rx="4.0" ry="3.55"/>
<ellipse cx="616.3" cy="422.7" rx="4.0" ry="3.55"/>
<ellipse cx="617.0" cy="407.7" rx="4.0" ry="3.55"/>
<ellipse cx="617.9" cy="412.8" rx="4.0" ry="3.55"/>
<ellipse cx="620.3" cy="435.9" rx="4.0" ry="3.55"/>
<ellipse cx="621.3" cy="446.7" rx="4.0" ry="3.55"/>
<ellipse cx="622.1" cy="448.1" rx="4.0" ry="3.55"/>
<ellipse cx="622.4" cy="451.6" rx="4.0" ry="3.55"/>
<ellipse cx="623.0" cy="441.5" rx="4.0" ry="3.55"/>
<ellipse cx="623.4" cy="441.0" rx="4.0" ry="3.55"/>
<ellipse cx="623.5" cy="444.9" rx="4.0" ry="3.55"/>
<ellipse cx="624.0" cy="442.2" rx="4.0" ry="3.55"/>
<ellipse cx="624.6" cy="443.0" rx="4.0" ry="3.55"/>
<ellipse cx="624.7" cy="444.1" rx="4.0" ry="3.55"/>
<ellipse cx="625.4" cy="445.5" rx="4.0" ry="3.55"/>
<ellipse cx="625.5" cy="462.4" rx="4.0" ry="3.55"/>
<ellipse cx="625.9" cy="468.1" rx="4.0" ry="3.55"/>
<ellipse cx="626.5" cy="453.4" rx="4.0" ry="3.55"/>
<ellipse cx="626.9" cy="454.5" rx="4.0" ry="3.55"/>
<ellipse cx="627.3" cy="468.4" rx="4.0" ry="3.55"/>
<ellipse cx="627.5" cy="473.8" rx="4.0" ry="3.55"/>
<ellipse cx="628.1" cy="474.1" rx="4.0" ry="3.55"/>
<ellipse cx="628.4" cy="470.0" rx="4.0" ry="3.55"/>
<ellipse cx="628.7" cy="475.2" rx="4.0" ry="3.55"/>
<ellipse cx="629.2" cy="466.7" rx="4.0" ry="3.55"/>
<ellipse cx="629.6" cy="477.8" rx="4.0" ry="3.55"/>
<ellipse cx="630.2" cy="476.2" rx="4.0" ry="3.55"/>
<ellipse cx="630.6" cy="475.0" rx="4.0" ry="3.55"/>
<ellipse cx="630.7" cy="480.3" rx="4.0" ry="3.55"/>
<ellipse cx="631.3" cy="474.2" rx="4.0" ry="3.55"/>
<ellipse cx="631.7" cy="477.4" rx="4.0" ry="3.55"/>
<ellipse cx="632.2" cy="491.2" rx="4.0" ry="3.55"/>
<ellipse cx="632.7" cy="496.6" rx="4.0" ry="3.55"/>
<ellipse cx="633.1" cy="496.3" rx="4.0" ry="3.55"/>
<ellipse cx="633.2" cy="496.0" rx="4.0" ry="3.55"/>
<ellipse cx="633.9" cy="480.1" rx="4.0" ry="3.55"/>
<ellipse cx="634.1" cy="492.4" rx="4.0" ry="3.55"/>
<ellipse cx="634.7" cy="487.4" rx="4.0" ry="3.55"/>
<ellipse cx="635.0" cy="496.0" rx="4.0" ry="3.55"/>
<ellipse cx="635.5" cy="489.7" rx="4.0" ry="3.55"/>
<ellipse cx="635.9" cy="488.6" rx="4.0" ry="3.55"/>
<ellipse cx="637.0" cy="503.7" rx="4.0" ry="3.55"/>
<ellipse cx="637.2" cy="501.0" rx="4.0" ry="3.55"/>
<ellipse cx="637.6" cy="498.9" rx="4.0" ry="3.55"/>
<ellipse cx="638.3" cy="501.6" rx="4.0" ry="3.55"/>
<ellipse cx="639.8" cy="525.2" rx="4.0" ry="3.55"/>
<ellipse cx="640.2" cy="528.6" rx="4.0" ry="3.55"/>
<ellipse cx="640.4" cy="522.9" rx="4.0" ry="3.55"/>
<ellipse cx="641.8" cy="523.0" rx="4.0" ry="3.55"/>
<ellipse cx="643.0" cy="522.4" rx="4.0" ry="3.55"/>
<ellipse cx="643.3" cy="531.9" rx="4.0" ry="3.55"/>
<ellipse cx="644.4" cy="524.9" rx="4.0" ry="3.55"/>
<ellipse cx="646.4" cy="545.5" rx="4.0" ry="3.55"/>
<ellipse cx="646.6" cy="544.4" rx="4.0" ry="3.55"/>
<ellipse cx="647.6" cy="551.7" rx="4.0" ry="3.55"/>
<ellipse cx="648.2" cy="549.0" rx="4.0" ry="3.55"/>
<ellipse cx="648.8" cy="555.5" rx="4.0" ry="3.55"/>
<ellipse cx="649.2" cy="556.2" rx="4.0" ry="3.55"/>
<ellipse cx="650.0" cy="544.7" rx="4.0" ry="3.55"/>
<ellipse cx="650.7" cy="555.8" rx="4.0" ry="3.55"/>
<ellipse cx="651.6" cy="548.2" rx="4.0" ry="3.55"/>
<ellipse cx="652.0" cy="558.8" rx="4.0" ry="3.55"/>
<ellipse cx="652.3" cy="554.5" rx="4.0" ry="3.55"/>
<ellipse cx="652.8" cy="567.3" rx="4.0" ry="3.55"/>
<ellipse cx="653.5" cy="573.9" rx="4.0" ry="3.55"/>
<ellipse cx="654.0" cy="556.1" rx="4.0" ry="3.55"/>
<ellipse cx="654.7" cy="565.6" rx="4.0" ry="3.55"/>
<ellipse cx="655.3" cy="568.2" rx="4.0" ry="3.55"/>
<ellipse cx="655.6" cy="565.6" rx="4.0" ry="3.55"/>
<ellipse cx="656.3" cy="564.2" rx="4.0" ry="3.55"/>
<ellipse cx="657.1" cy="574.6" rx="4.0" ry="3.55"/>
<ellipse cx="657.5" cy="567.7" rx="4.0" ry="3.55"/>
<ellipse cx="658.0" cy="582.3" rx="4.0" ry="3.55"/>
<ellipse cx="658.7" cy="568.2" rx="4.0" ry="3.55"/>
<ellipse cx="659.3" cy="574.4" rx="4.0" ry="3.55"/>
<ellipse cx="660.0" cy="576.8" rx="4.0" ry="3.55"/>
<ellipse cx="660.5" cy="583.8" rx="4.0" ry="3.55"/>
<ellipse cx="660.9" cy="580.6" rx="4.0" ry="3.55"/>
<ellipse cx="661.4" cy="587.2" rx="4.0" ry="3.55"/>
<ellipse cx="662.4" cy="582.7" rx="4.0" ry="3.55"/>
<ellipse cx="662.9" cy="595.5" rx="4.0" ry="3.55"/>
<ellipse cx="663.4" cy="591.9" rx="4.0" ry="3.55"/>
<ellipse cx="664.1" cy="595.0" rx="4.0" ry="3.55"/>
<ellipse cx="664.8" cy="584.2" rx="4.0" ry="3.55"/>
<ellipse cx="547.5" cy="42.8" rx="4.0" ry="3.55"/>
<ellipse cx="536.7" cy="116.0" rx="4.0" ry="3.55"/>
<ellipse cx="534.8" cy="128.4" rx="4.0" ry="3.55"/>
<ellipse cx="525.0" cy="191.4" rx="4.0" ry="3.55"/>
<ellipse cx="523.6" cy="200.3" rx="4.0" ry="3.55"/>
<ellipse cx="521.0" cy="216.3" rx="4.0" ry="3.55"/>
<ellipse cx="519.6" cy="225.2" rx="4.0" ry="3.55"/>
<ellipse cx="516.7" cy="242.6" rx="4.0" ry="3.55"/>
<ellipse cx="515.4" cy="250.6" rx="4.0" ry="3.55"/>
<ellipse cx="513.1" cy="264.5" rx="4.0" ry="3.55"/>
<ellipse cx="510.3" cy="281.0" rx="4.0" ry="3.55"/>
<ellipse cx="510.3" cy="281.1" rx="4.0" ry="3.55"/>
<ellipse cx="508.8" cy="289.4" rx="4.0" ry="3.55"/>
<ellipse cx="508.6" cy="290.6" rx="4.0" ry="3.55"/>
<ellipse cx="507.0" cy="299.7" rx="4.0" ry="3.55"/>
<ellipse cx="488.5" cy="399.2" rx="4.0" ry="3.55"/>
<ellipse cx="486.3" cy="410.1" rx="4.0" ry="3.55"/>
<ellipse cx="486.4" cy="409.6" rx="4.0" ry="3.55"/>
<ellipse cx="484.6" cy="418.4" rx="4.0" ry="3.55"/>
<ellipse cx="461.4" cy="517.6" rx="4.0" ry="3.55"/>
<ellipse cx="459.1" cy="525.9" rx="4.0" ry="3.55"/>
<ellipse cx="443.6" cy="576.6" rx="4.0" ry="3.55"/>
<ellipse cx="440.7" cy="584.9" rx="4.0" ry="3.55"/>
<ellipse cx="428.5" cy="616.1" rx="4.0" ry="3.55"/>
<ellipse cx="423.8" cy="626.4" rx="4.0" ry="3.55"/>
<ellipse cx="555.4" cy="49.0" rx="4.0" ry="3.55"/>
<ellipse cx="556.5" cy="57.1" rx="4.0" ry="3.55"/>
<ellipse cx="558.0" cy="66.9" rx="4.0" ry="3.55"/>
<ellipse cx="567.5" cy="130.6" rx="4.0" ry="3.55"/>
<ellipse cx="569.1" cy="140.8" rx="4.0" ry="3.55"/>
<ellipse cx="570.2" cy="147.8" rx="4.0" ry="3.55"/>
<ellipse cx="571.5" cy="156.7" rx="4.0" ry="3.55"/>
<ellipse cx="578.4" cy="200.4" rx="4.0" ry="3.55"/>
<ellipse cx="579.8" cy="209.3" rx="4.0" ry="3.55"/>
<ellipse cx="592.3" cy="284.6" rx="4.0" ry="3.55"/>
<ellipse cx="593.8" cy="293.0" rx="4.0" ry="3.55"/>
<ellipse cx="608.1" cy="371.6" rx="4.0" ry="3.55"/>
<ellipse cx="610.2" cy="382.4" rx="4.0" ry="3.55"/>
<ellipse cx="612.1" cy="392.3" rx="4.0" ry="3.55"/>
<ellipse cx="613.8" cy="400.6" rx="4.0" ry="3.55"/>
<ellipse cx="616.3" cy="413.0" rx="4.0" ry="3.55"/>
<ellipse cx="618.3" cy="422.6" rx="4.0" ry="3.55"/>
<ellipse cx="618.3" cy="422.6" rx="4.0" ry="3.55"/>
<ellipse cx="620.2" cy="431.4" rx="4.0" ry="3.55"/>
<ellipse cx="637.8" cy="506.9" rx="4.0" ry="3.55"/>
<ellipse cx="640.2" cy="515.8" rx="4.0" ry="3.55"/>
<ellipse cx="639.7" cy="514.1" rx="4.0" ry="3.55"/>
<ellipse cx="641.9" cy="522.2" rx="4.0" ry="3.55"/>
<ellipse cx="644.5" cy="531.8" rx="4.0" ry="3.55"/>
<ellipse cx="647.9" cy="543.4" rx="4.0" ry="3.55"/>
<ellipse cx="550.3" cy="25.5" rx="4.0" ry="3.55"/>
<ellipse cx="550.9" cy="28.5" rx="4.0" ry="3.55"/>
<ellipse cx="552.0" cy="31.0" rx="4.0" ry="3.55"/>
<ellipse cx="552.4" cy="33.2" rx="4.0" ry="3.55"/>
<ellipse cx="510.3" cy="281.1" rx="4.0" ry="3.55"/>
<ellipse cx="508.7" cy="290.1" rx="4.0" ry="3.55"/>
<ellipse cx="484.6" cy="410.0" rx="4.0" ry="3.55"/>
<ellipse cx="617.0" cy="422.7" rx="4.0" ry="3.55"/>
<ellipse cx="313.9" cy="713.4" rx="4.0" ry="3.55"/>
<ellipse cx="338.2" cy="709.7" rx="4.0" ry="3.55"/>
<ellipse cx="347.2" cy="708.1" rx="4.0" ry="3.55"/>
<ellipse cx="369.4" cy="697.2" rx="4.0" ry="3.55"/>
<ellipse cx="370.8" cy="690.4" rx="4.0" ry="3.55"/>
<ellipse cx="374.0" cy="689.0" rx="4.0" ry="3.55"/>
<ellipse cx="378.0" cy="690.4" rx="4.0" ry="3.55"/>
<ellipse cx="382.0" cy="683.6" rx="4.0" ry="3.55"/>
<ellipse cx="384.5" cy="685.0" rx="4.0" ry="3.55"/>
<ellipse cx="387.7" cy="685.4" rx="4.0" ry="3.55"/>
<ellipse cx="391.0" cy="680.3" rx="4.0" ry="3.55"/>
<ellipse cx="391.7" cy="677.4" rx="4.0" ry="3.55"/>
<ellipse cx="392.4" cy="674.6" rx="4.0" ry="3.55"/>
<ellipse cx="393.8" cy="672.4" rx="4.0" ry="3.55"/>
<ellipse cx="396.7" cy="668.1" rx="4.0" ry="3.55"/>
<ellipse cx="399.6" cy="674.6" rx="4.0" ry="3.55"/>
<ellipse cx="401.0" cy="667.4" rx="4.0" ry="3.55"/>
<ellipse cx="401.8" cy="663.8" rx="4.0" ry="3.55"/>
<ellipse cx="400.3" cy="660.2" rx="4.0" ry="3.55"/>
<ellipse cx="402.1" cy="660.9" rx="4.0" ry="3.55"/>
<ellipse cx="404.5" cy="658.0" rx="4.0" ry="3.55"/>
<ellipse cx="407.2" cy="655.5" rx="4.0" ry="3.55"/>
<ellipse cx="407.5" cy="651.5" rx="4.0" ry="3.55"/>
<ellipse cx="411.1" cy="650.8" rx="4.0" ry="3.55"/>
<ellipse cx="411.8" cy="645.8" rx="4.0" ry="3.55"/>
<ellipse cx="414.7" cy="643.6" rx="4.0" ry="3.55"/>
<ellipse cx="417.6" cy="643.6" rx="4.0" ry="3.55"/>
<ellipse cx="417.6" cy="640.7" rx="4.0" ry="3.55"/>
<ellipse cx="409.4" cy="649.1" rx="4.0" ry="3.55"/>
<ellipse cx="413.0" cy="643.3" rx="4.0" ry="3.55"/>
<ellipse cx="418.8" cy="641.9" rx="4.0" ry="3.55"/>
<ellipse cx="413.0" cy="639.7" rx="4.0" ry="3.55"/>
<ellipse cx="419.5" cy="636.8" rx="4.0" ry="3.55"/>
<ellipse cx="418.0" cy="631.8" rx="4.0" ry="3.55"/>
<ellipse cx="425.2" cy="628.9" rx="4.0" ry="3.55"/>
<ellipse cx="421.6" cy="625.3" rx="4.0" ry="3.55"/>
<ellipse cx="423.0" cy="627.5" rx="4.0" ry="3.55"/>
<ellipse cx="416.0" cy="637.5" rx="4.0" ry="3.55"/>
<ellipse cx="420.5" cy="633.0" rx="4.0" ry="3.55"/>
<ellipse cx="426.7" cy="617.4" rx="4.0" ry="3.55"/>
<ellipse cx="431.0" cy="613.1" rx="4.0" ry="3.55"/>
<ellipse cx="432.4" cy="608.8" rx="4.0" ry="3.55"/>
<ellipse cx="431.0" cy="603.7" rx="4.0" ry="3.55"/>
<ellipse cx="437.5" cy="603.7" rx="4.0" ry="3.55"/>
<ellipse cx="433.9" cy="599.4" rx="4.0" ry="3.55"/>
<ellipse cx="437.5" cy="598.0" rx="4.0" ry="3.55"/>
<ellipse cx="433.9" cy="592.9" rx="4.0" ry="3.55"/>
<ellipse cx="438.9" cy="592.9" rx="4.0" ry="3.55"/>
<ellipse cx="438.2" cy="587.9" rx="4.0" ry="3.55"/>
<ellipse cx="443.2" cy="587.2" rx="4.0" ry="3.55"/>
<ellipse cx="429.0" cy="615.2" rx="4.0" ry="3.55"/>
<ellipse cx="434.5" cy="606.0" rx="4.0" ry="3.55"/>
<ellipse cx="435.5" cy="601.5" rx="4.0" ry="3.55"/>
<ellipse cx="436.5" cy="595.5" rx="4.0" ry="3.55"/>
<ellipse cx="440.5" cy="590.0" rx="4.0" ry="3.55"/>
<ellipse cx="666.3" cy="601.4" rx="4.0" ry="3.55"/>
<ellipse cx="667.7" cy="611.8" rx="4.0" ry="3.55"/>
<ellipse cx="671.1" cy="613.8" rx="4.0" ry="3.55"/>
<ellipse cx="672.5" cy="626.3" rx="4.0" ry="3.55"/>
<ellipse cx="674.8" cy="624.0" rx="4.0" ry="3.55"/>
<ellipse cx="676.7" cy="622.1" rx="4.0" ry="3.55"/>
<ellipse cx="679.9" cy="637.1" rx="4.0" ry="3.55"/>
<ellipse cx="685.7" cy="643.2" rx="4.0" ry="3.55"/>
<ellipse cx="687.8" cy="653.3" rx="4.0" ry="3.55"/>
<ellipse cx="694.3" cy="650.9" rx="4.0" ry="3.55"/>
<ellipse cx="691.0" cy="652.0" rx="4.0" ry="3.55"/>
<ellipse cx="691.9" cy="660.9" rx="4.0" ry="3.55"/>
<ellipse cx="696.1" cy="659.5" rx="4.0" ry="3.55"/>
<ellipse cx="694.7" cy="663.7" rx="4.0" ry="3.55"/>
<ellipse cx="707.8" cy="678.2" rx="4.0" ry="3.55"/>
<ellipse cx="710.0" cy="678.8" rx="4.0" ry="3.55"/>
<ellipse cx="712.0" cy="679.6" rx="4.0" ry="3.55"/>
<ellipse cx="714.0" cy="681.7" rx="4.0" ry="3.55"/>
<ellipse cx="718.2" cy="689.3" rx="4.0" ry="3.55"/>
<ellipse cx="716.0" cy="686.0" rx="4.0" ry="3.55"/>
<ellipse cx="734.8" cy="702.1" rx="4.0" ry="3.55"/>
<ellipse cx="747.3" cy="705.9" rx="4.0" ry="3.55"/>
<ellipse cx="750.7" cy="708.0" rx="4.0" ry="3.55"/>
<ellipse cx="759.0" cy="711.8" rx="4.0" ry="3.55"/>
<ellipse cx="766.2" cy="711.4" rx="4.0" ry="3.55"/>
<ellipse cx="779.1" cy="715.6" rx="4.0" ry="3.55"/>
<ellipse cx="786.4" cy="715.3" rx="4.0" ry="3.55"/>
</g>
<text transform="translate(113.4 786.6) scale(1.147 1)" text-anchor="middle">-1.0</text>
<text transform="translate(200.9 786.6) scale(1.147 1)" text-anchor="middle">-0.8</text>
<text transform="translate(288.4 786.6) scale(1.147 1)" text-anchor="middle">-0.6</text>
<text transform="translate(375.9 786.6) scale(1.147 1)" text-anchor="middle">-0.4</text>
<text transform="translate(463.4 786.6) scale(1.147 1)" text-anchor="middle">-0.2</text>
<text transform="translate(550.9 786.6) scale(1.147 1)" text-anchor="middle">0.0</text>
<text transform="translate(638.4 786.6) scale(1.147 1)" text-anchor="middle">0.2</text>
<text transform="translate(725.9 786.6) scale(1.147 1)" text-anchor="middle">0.4</text>
<text transform="translate(813.4 786.6) scale(1.147 1)" text-anchor="middle">0.6</text>
<text transform="translate(900.9 786.6) scale(1.147 1)" text-anchor="middle">0.8</text>
<text transform="translate(988.4 786.6) scale(1.147 1)" text-anchor="middle">1.0</text>
<text transform="translate(1075.9 786.6) scale(1.147 1)" text-anchor="middle">1.2</text>
<text transform="translate(1163.4 786.6) scale(1.147 1)" text-anchor="middle">1.4</text>
<text transform="translate(1250.9 786.6) scale(1.147 1)" text-anchor="middle">1.6</text>
<text transform="translate(1338.4 786.6) scale(1.147 1)" text-anchor="middle">1.8</text>
<text transform="translate(60.4 718.6) scale(1.147 1) rotate(-90)" text-anchor="middle">0.0</text>
<text transform="translate(60.4 579.8) scale(1.147 1) rotate(-90)" text-anchor="middle">0.2</text>
<text transform="translate(60.4 441.1) scale(1.147 1) rotate(-90)" text-anchor="middle">0.4</text>
<text transform="translate(60.4 302.3) scale(1.147 1) rotate(-90)" text-anchor="middle">0.6</text>
<text transform="translate(60.4 163.6) scale(1.147 1) rotate(-90)" text-anchor="middle">0.8</text>
<text transform="translate(60.4 24.8) scale(1.147 1) rotate(-90)" text-anchor="middle">1.0</text>
<text transform="translate(1415.5 719.0) scale(1.147 1) rotate(-90)" text-anchor="middle">0.0</text>
<text transform="translate(1415.5 545.5) scale(1.147 1) rotate(-90)" text-anchor="middle">0.5</text>
<text transform="translate(1415.5 372.0) scale(1.147 1) rotate(-90)" text-anchor="middle">1.0</text>
<text transform="translate(1415.5 198.5) scale(1.147 1) rotate(-90)" text-anchor="middle">1.5</text>
<text transform="translate(1415.5 25.0) scale(1.147 1) rotate(-90)" text-anchor="middle">2.0</text>
<text transform="translate(725.5 813.4) scale(1.147 1)" text-anchor="middle">Estimated coefficients</text>
<text transform="translate(24.9 371.3) scale(1.147 0.995) rotate(-90)" text-anchor="middle">Estimation of coefficient kernel density distribution</text>
<text transform="translate(1446.8 371.3) scale(1.147 0.972) rotate(-90)" text-anchor="middle">P Value</text>
<rect x="244" y="838" width="964" height="61" fill="#fff" stroke="#000" stroke-width="2"/>
<ellipse cx="261.7" cy="868.3" rx="4.4" ry="3.9" fill="#000"/>
<text transform="translate(287.5 878.2) scale(1.147 1)">P Value</text>
<line x1="444.8" y1="868.3" x2="591.4" y2="868.3" stroke="#000" stroke-width="2.3"/>
<text transform="translate(614.8 878.2) scale(1.1505 1)">Density distribution of estimated coefficients</text>
</svg></body></html>
